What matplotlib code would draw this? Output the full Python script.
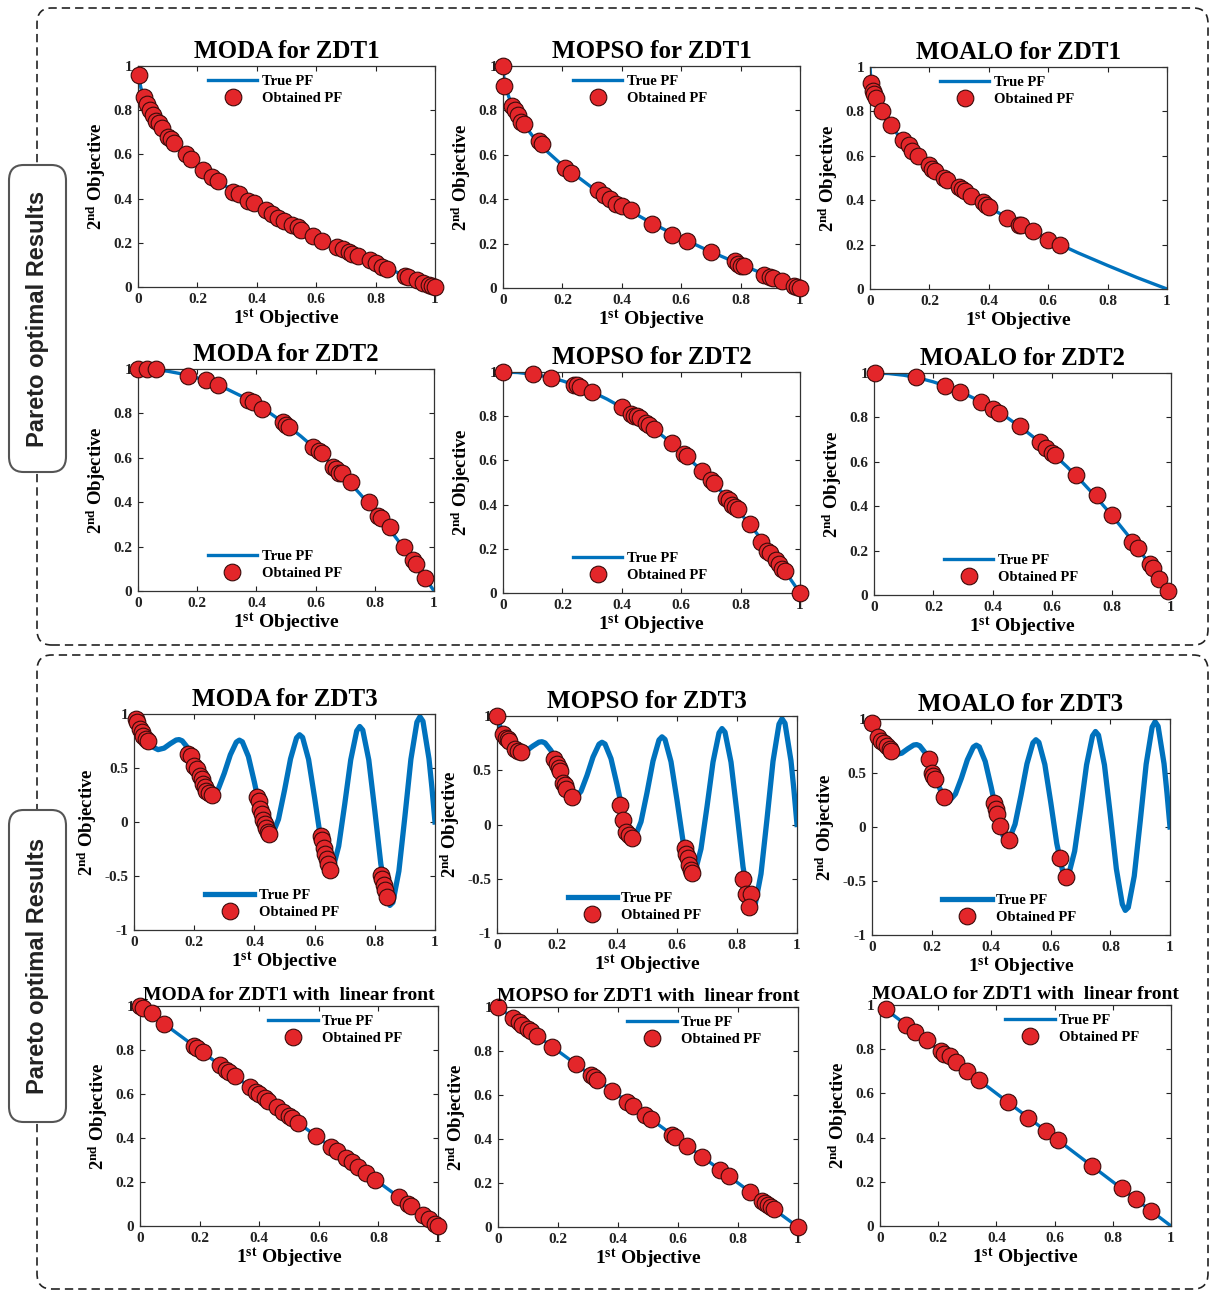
import matplotlib
matplotlib.use('Agg')
import matplotlib.pyplot as plt
from matplotlib.patches import FancyBboxPatch

# Tamaño de la figura en píxeles
W, H = 1211, 1292

plt.rcParams['font.family'] = 'Liberation Serif'
plt.rcParams['font.weight'] = 'bold'
plt.rcParams['axes.labelweight'] = 'bold'
plt.rcParams['axes.titleweight'] = 'bold'
plt.rcParams['mathtext.fontset'] = 'custom'
plt.rcParams['mathtext.rm'] = 'Liberation Serif:bold'
plt.rcParams['mathtext.bf'] = 'Liberation Serif:bold'
plt.rcParams['mathtext.it'] = 'Liberation Serif:bold:italic'

# Frentes verdaderos
zdt1_x = [0, 0.0025, 0.01, 0.02, 0.04, 0.06, 0.1, 0.15, 0.2, 0.3, 0.4, 0.5, 0.6, 0.7, 0.8, 0.9, 1.0]
zdt1_y = [1, 0.95, 0.9, 0.859, 0.8, 0.755, 0.684, 0.613, 0.553, 0.452, 0.368, 0.293, 0.225, 0.163, 0.106, 0.051, 0]

zdt2_x = [0, 0.05, 0.1, 0.15, 0.2, 0.25, 0.3, 0.35, 0.4, 0.45, 0.5, 0.55, 0.6, 0.65, 0.7, 0.75, 0.8, 0.85, 0.9, 0.95, 1.0]
zdt2_y = [1, 0.9975, 0.99, 0.9775, 0.96, 0.9375, 0.91, 0.8775, 0.84, 0.7975, 0.75, 0.6975, 0.64, 0.5775, 0.51,
          0.4375, 0.36, 0.2775, 0.19, 0.0975, 0]

zdt3_x = [0, 0.01, 0.02, 0.04, 0.05, 0.06, 0.08, 0.10, 0.12, 0.14, 0.15, 0.16, 0.18, 0.20, 0.22, 0.24, 0.25,
          0.26, 0.28, 0.30, 0.32, 0.34, 0.35, 0.36, 0.38, 0.40, 0.42, 0.44, 0.45, 0.46, 0.48, 0.50, 0.52, 0.54,
          0.55, 0.56, 0.58, 0.60, 0.62, 0.64, 0.65, 0.66, 0.68, 0.70, 0.72, 0.74, 0.75, 0.76, 0.78, 0.80, 0.82,
          0.84, 0.85, 0.86, 0.88, 0.90, 0.92, 0.94, 0.95, 0.96, 0.98, 0.99, 1.00]
zdt3_y = [1.0, 0.897, 0.847, 0.762, 0.726, 0.698, 0.670, 0.684, 0.724, 0.759, 0.763, 0.752, 0.682, 0.553, 0.402,
          0.282, 0.250, 0.243, 0.306, 0.452, 0.622, 0.740, 0.758, 0.742, 0.607, 0.368, 0.105, -0.082, -0.121,
          -0.116, 0.025, 0.293, 0.585, 0.779, 0.808, 0.784, 0.579, 0.225, -0.152, -0.409, -0.456, -0.440,
          -0.224, 0.163, 0.575, 0.844, 0.884, 0.851, 0.575, 0.106, -0.388, -0.715, -0.772, -0.745, -0.455,
          0.051, 0.582, 0.925, 0.975, 0.933, 0.586, 0.311, 0.0]

lin_x = [0, 1]
lin_y = [1, 0]

# Frentes obtenidos (ZDT1)
moda_zdt1_x = [0.003, 0.02, 0.03, 0.04, 0.05, 0.06, 0.07, 0.08, 0.10, 0.11, 0.12, 0.16, 0.18, 0.22, 0.25, 0.27,
               0.32, 0.34, 0.37, 0.39, 0.43, 0.45, 0.47, 0.49, 0.52, 0.54, 0.55, 0.59, 0.62, 0.67, 0.69, 0.71,
               0.72, 0.74, 0.78, 0.80, 0.82, 0.84, 0.90, 0.91, 0.94, 0.96, 0.98, 0.99, 1.0]
moda_zdt1_y = [0.96, 0.86, 0.83, 0.80, 0.78, 0.75, 0.74, 0.72, 0.68, 0.67, 0.65, 0.60, 0.58, 0.53, 0.50, 0.48,
               0.43, 0.42, 0.39, 0.38, 0.35, 0.33, 0.31, 0.30, 0.28, 0.27, 0.26, 0.23, 0.21, 0.18, 0.17, 0.16,
               0.15, 0.14, 0.12, 0.11, 0.09, 0.08, 0.05, 0.045, 0.03, 0.02, 0.01, 0.005, 0.0]
mopso_zdt1_x = [0.0, 0.005, 0.03, 0.04, 0.05, 0.06, 0.07, 0.12, 0.13, 0.21, 0.23, 0.32, 0.34, 0.36, 0.38, 0.40,
                0.43, 0.50, 0.57, 0.62, 0.70, 0.78, 0.79, 0.80, 0.81, 0.88, 0.90, 0.91, 0.94, 0.98, 0.99, 1.0]
mopso_zdt1_y = [1.0, 0.91, 0.82, 0.80, 0.78, 0.75, 0.74, 0.66, 0.65, 0.54, 0.52, 0.44, 0.42, 0.40, 0.38, 0.37,
                0.35, 0.29, 0.24, 0.21, 0.16, 0.12, 0.11, 0.10, 0.10, 0.06, 0.05, 0.045, 0.03, 0.01, 0.005, 0.0]
moalo_zdt1_x = [0.005, 0.01, 0.015, 0.02, 0.04, 0.07, 0.11, 0.13, 0.14, 0.16, 0.20, 0.21, 0.22, 0.25, 0.26,
                0.30, 0.31, 0.32, 0.34, 0.38, 0.39, 0.40, 0.46, 0.50, 0.51, 0.55, 0.60, 0.64]
moalo_zdt1_y = [0.93, 0.89, 0.88, 0.86, 0.80, 0.74, 0.67, 0.65, 0.62, 0.60, 0.56, 0.54, 0.53, 0.50, 0.49,
                0.46, 0.45, 0.44, 0.42, 0.39, 0.38, 0.37, 0.32, 0.29, 0.29, 0.26, 0.22, 0.20]

# Frentes obtenidos (ZDT2)
moda_zdt2_x = [0.0, 0.03, 0.06, 0.17, 0.23, 0.27, 0.37, 0.39, 0.42, 0.49, 0.50, 0.51, 0.59, 0.61, 0.62, 0.66,
               0.67, 0.68, 0.69, 0.72, 0.78, 0.81, 0.82, 0.85, 0.90, 0.93, 0.94, 0.97]
moda_zdt2_y = [1.0, 1.0, 1.0, 0.97, 0.95, 0.93, 0.86, 0.85, 0.82, 0.76, 0.75, 0.74, 0.65, 0.63, 0.62, 0.56,
               0.55, 0.53, 0.53, 0.49, 0.40, 0.34, 0.33, 0.29, 0.20, 0.14, 0.12, 0.06]
mopso_zdt2_x = [0.0, 0.10, 0.16, 0.24, 0.25, 0.26, 0.30, 0.40, 0.43, 0.44, 0.45, 0.46, 0.48, 0.49, 0.51, 0.57,
                0.61, 0.62, 0.67, 0.70, 0.71, 0.75, 0.76, 0.77, 0.78, 0.79, 0.83, 0.87, 0.89, 0.90, 0.92,
                0.93, 0.94, 0.95, 1.0]
mopso_zdt2_y = [1.0, 0.99, 0.975, 0.94, 0.94, 0.93, 0.91, 0.84, 0.81, 0.80, 0.80, 0.79, 0.77, 0.76, 0.74, 0.68,
                0.63, 0.62, 0.55, 0.51, 0.50, 0.43, 0.42, 0.40, 0.39, 0.38, 0.31, 0.23, 0.19, 0.18, 0.15,
                0.13, 0.11, 0.10, 0.0]
moalo_zdt2_x = [0.005, 0.14, 0.24, 0.29, 0.36, 0.40, 0.42, 0.49, 0.56, 0.58, 0.60, 0.61, 0.68, 0.75, 0.80,
                0.87, 0.89, 0.93, 0.94, 0.96, 0.99]
moalo_zdt2_y = [1.0, 0.98, 0.94, 0.915, 0.87, 0.84, 0.82, 0.76, 0.69, 0.66, 0.64, 0.63, 0.54, 0.45, 0.36,
                0.24, 0.21, 0.14, 0.12, 0.07, 0.02]

# Frentes obtenidos (ZDT3)
moda_zdt3_x = [0.005, 0.01, 0.02, 0.025, 0.03, 0.04, 0.045, 0.18, 0.19, 0.20, 0.21, 0.22, 0.225, 0.23, 0.235,
               0.24, 0.25, 0.26, 0.41, 0.415, 0.42, 0.425, 0.43, 0.435, 0.44, 0.445, 0.45, 0.62, 0.625, 0.63,
               0.635, 0.64, 0.645, 0.65, 0.82, 0.825, 0.83, 0.835, 0.84]
moda_zdt3_y = [0.95, 0.93, 0.86, 0.83, 0.80, 0.77, 0.75, 0.63, 0.61, 0.52, 0.49, 0.43, 0.40, 0.35, 0.32,
               0.29, 0.27, 0.25, 0.23, 0.19, 0.12, 0.07, 0.02, -0.02, -0.06, -0.09, -0.11, -0.13, -0.17, -0.24,
               -0.30, -0.34, -0.39, -0.44, -0.49, -0.53, -0.58, -0.63, -0.69]
mopso_zdt3_x = [0.0, 0.02, 0.03, 0.035, 0.04, 0.06, 0.07, 0.08, 0.19, 0.20, 0.205, 0.21, 0.22, 0.225, 0.23,
                0.25, 0.41, 0.42, 0.43, 0.44, 0.45, 0.625, 0.63, 0.635, 0.64, 0.645, 0.65, 0.82, 0.83, 0.845,
                0.84]
mopso_zdt3_y = [1.0, 0.83, 0.80, 0.79, 0.77, 0.70, 0.68, 0.67, 0.60, 0.56, 0.52, 0.49, 0.38, 0.36, 0.33,
                0.25, 0.18, 0.04, -0.07, -0.10, -0.12, -0.22, -0.27, -0.31, -0.37, -0.42, -0.45, -0.50, -0.64,
                -0.64, -0.76]
moalo_zdt3_x = [0.0, 0.02, 0.03, 0.04, 0.05, 0.06, 0.065, 0.19, 0.20, 0.205, 0.21, 0.24, 0.41, 0.415, 0.42,
                0.43, 0.46, 0.63, 0.65]
moalo_zdt3_y = [0.96, 0.83, 0.80, 0.78, 0.75, 0.72, 0.70, 0.63, 0.50, 0.47, 0.44, 0.28, 0.22, 0.17, 0.12,
                0.01, -0.12, -0.29, -0.46]

# Frentes obtenidos (ZDT1 con frente lineal)
moda_lin_x = [0.0, 0.01, 0.04, 0.08, 0.18, 0.19, 0.21, 0.27, 0.29, 0.30, 0.32, 0.37, 0.39, 0.40, 0.42, 0.43,
              0.46, 0.48, 0.50, 0.51, 0.53, 0.59, 0.64, 0.66, 0.69, 0.71, 0.73, 0.76, 0.79, 0.87, 0.90, 0.91,
              0.95, 0.97, 0.99, 1.0]
moda_lin_y = [1.0, 0.99, 0.97, 0.92, 0.82, 0.81, 0.79, 0.73, 0.71, 0.70, 0.68, 0.63, 0.61, 0.60, 0.58, 0.57,
              0.54, 0.52, 0.50, 0.49, 0.47, 0.41, 0.36, 0.34, 0.31, 0.29, 0.27, 0.24, 0.21, 0.13, 0.10, 0.09,
              0.05, 0.03, 0.01, 0.0]
mopso_lin_x = [0.0, 0.05, 0.07, 0.08, 0.10, 0.11, 0.13, 0.18, 0.26, 0.31, 0.32, 0.33, 0.38, 0.43, 0.45, 0.49,
               0.51, 0.58, 0.59, 0.63, 0.68, 0.74, 0.77, 0.84, 0.88, 0.89, 0.90, 0.91, 0.92, 1.0]
mopso_lin_y = [1.0, 0.95, 0.93, 0.92, 0.90, 0.89, 0.87, 0.82, 0.74, 0.69, 0.68, 0.67, 0.62, 0.57, 0.55, 0.51,
               0.49, 0.42, 0.41, 0.37, 0.32, 0.26, 0.23, 0.16, 0.12, 0.11, 0.10, 0.09, 0.08, 0.0]
moalo_lin_x = [0.02, 0.09, 0.12, 0.16, 0.21, 0.22, 0.24, 0.26, 0.30, 0.34, 0.44, 0.51, 0.57, 0.61, 0.73, 0.83,
               0.88, 0.93]
moalo_lin_y = [0.98, 0.91, 0.88, 0.84, 0.79, 0.78, 0.77, 0.74, 0.70, 0.66, 0.56, 0.49, 0.43, 0.39, 0.27, 0.17,
               0.12, 0.07]

titles = ['MODA for ZDT1', 'MOPSO for ZDT1', 'MOALO for ZDT1',
          'MODA for ZDT2', 'MOPSO for ZDT2', 'MOALO for ZDT2',
          'MODA for ZDT3', 'MOPSO for ZDT3', 'MOALO for ZDT3',
          'MODA for ZDT1 with  linear front', 'MOPSO for ZDT1 with  linear front',
          'MOALO for ZDT1 with  linear front']
true_fronts = [(zdt1_x, zdt1_y)] * 3 + [(zdt2_x, zdt2_y)] * 3 + [(zdt3_x, zdt3_y)] * 3 + [(lin_x, lin_y)] * 3
obtained = [(moda_zdt1_x, moda_zdt1_y), (mopso_zdt1_x, mopso_zdt1_y), (moalo_zdt1_x, moalo_zdt1_y),
            (moda_zdt2_x, moda_zdt2_y), (mopso_zdt2_x, mopso_zdt2_y), (moalo_zdt2_x, moalo_zdt2_y),
            (moda_zdt3_x, moda_zdt3_y), (mopso_zdt3_x, mopso_zdt3_y), (moalo_zdt3_x, moalo_zdt3_y),
            (moda_lin_x, moda_lin_y), (mopso_lin_x, mopso_lin_y), (moalo_lin_x, moalo_lin_y)]

# Posición de cada eje en píxeles (izq, arriba, der, abajo)
rects = [(138, 66, 435, 287), (503, 66, 800, 288), (870, 67, 1167, 289),
         (138, 369, 434, 591), (503, 372, 800, 593), (874, 373, 1171, 595),
         (134, 714, 435, 930), (497, 716, 797, 933), (872, 719, 1170, 935),
         (140, 1006, 438, 1226), (498, 1007, 798, 1227), (880, 1005, 1171, 1226)]

blue = '#0072BD'
red = '#e3262a'
edge = '#3a0a0a'


def px_rect(l, t, r, b):
    return [l / W, 1 - b / H, (r - l) / W, (b - t) / H]


fig = plt.figure(figsize=(W / 100, H / 100), dpi=100)

for i in range(12):
    row = i // 3
    ax = fig.add_axes(px_rect(*rects[i]))
    tx, ty = true_fronts[i]
    ox, oy = obtained[i]
    lw = 3.8 if row == 2 else 2.4
    ax.plot(tx, ty, color=blue, lw=lw, label='True PF', zorder=2, solid_joinstyle='round')
    ax.plot(ox, oy, ls='none', marker='o', ms=12, mfc=red, mec=edge, mew=0.8,
            label='Obtained PF', zorder=3, clip_on=False)

    ax.set_xlim(0, 1)
    ax.set_xticks([0, 0.2, 0.4, 0.6, 0.8, 1])
    ax.set_xticklabels(['0', '0.2', '0.4', '0.6', '0.8', '1'])
    if row == 2:
        ax.set_ylim(-1, 1)
        ax.set_yticks([-1, -0.5, 0, 0.5, 1])
        ax.set_yticklabels(['-1', '-0.5', '0', '0.5', '1'])
    else:
        ax.set_ylim(0, 1)
        ax.set_yticks([0, 0.2, 0.4, 0.6, 0.8, 1])
        ax.set_yticklabels(['0', '0.2', '0.4', '0.6', '0.8', '1'])

    ax.tick_params(direction='in', top=True, right=True, length=3.5, width=0.8,
                   labelsize=11, pad=4, colors='#222222')
    for sp in ax.spines.values():
        sp.set_linewidth(0.9)
        sp.set_color('#333333')

    ax.set_xlabel(r'1$^{\mathbf{st}}$ Objective', fontsize=14, fontweight='bold', labelpad=1)
    ax.set_ylabel(r'2$^{\mathbf{nd}}$ Objective', fontsize=13.5, fontweight='bold', labelpad=4)
    if row == 3:
        ax.set_title(titles[i], fontsize=14, fontweight='bold', pad=4)
    else:
        ax.set_title(titles[i], fontsize=18, fontweight='bold', pad=6)

    # Leyenda sin marco
    if row in (0, 3):
        x0 = 0.43 if row == 3 else 0.235
        ax.legend(loc='upper left', bbox_to_anchor=(x0, 0.96), frameon=False, fontsize=10.5,
                  handlelength=3.4, handletextpad=0.3, labelspacing=0.25, borderpad=0,
                  borderaxespad=0, numpoints=1)
    else:
        ax.legend(loc='lower left', bbox_to_anchor=(0.235, 0.05), frameon=False, fontsize=10.5,
                  handlelength=3.4, handletextpad=0.3, labelspacing=0.25, borderpad=0,
                  borderaxespad=0, numpoints=1)

# Marcos discontinuos de cada bloque
for (l, t, r, b) in [(37, 8, 1208, 645), (37, 655, 1208, 1289)]:
    frame = FancyBboxPatch((l / W, 1 - b / H), (r - l) / W, (b - t) / H,
                           boxstyle='round,pad=0,rounding_size=0.012', transform=fig.transFigure,
                           fill=False, ec='#222222', lw=1.2, ls=(0, (5, 3)), zorder=1)
    fig.add_artist(frame)

# Etiquetas laterales
for (l, t, r, b) in [(9, 165, 66, 472), (9, 810, 66, 1122)]:
    box = FancyBboxPatch((l / W, 1 - b / H), (r - l) / W, (b - t) / H,
                         boxstyle='round,pad=0,rounding_size=0.012', transform=fig.transFigure,
                         fc='white', ec='#555555', lw=1.5, zorder=5)
    fig.add_artist(box)
    fig.text((l + r) / 2 / W, 1 - (t + b) / 2 / H, 'Pareto optimal Results', rotation=90,
             ha='center', va='center', fontsize=17, fontweight='bold',
             family='Liberation Sans', color='#222222', zorder=6)

fig.savefig('out.png', dpi=100)
